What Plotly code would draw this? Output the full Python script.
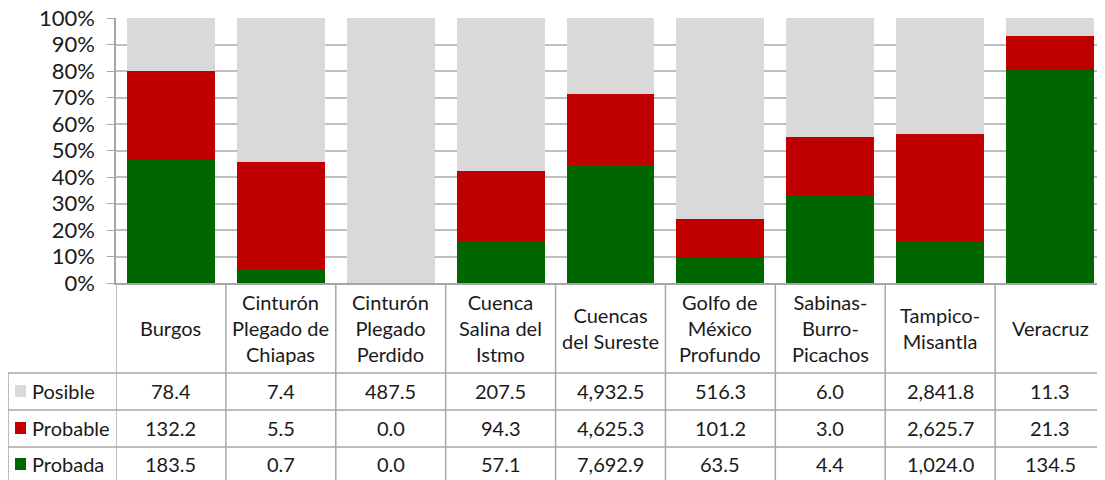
import plotly.graph_objects as go

categories = ["Burgos", "Cinturón<br>Plegado de<br>Chiapas", "Cinturón<br>Plegado<br>Perdido",
              "Cuenca<br>Salina del<br>Istmo", "Cuencas<br>del Sureste", "Golfo de<br>México<br>Profundo",
              "Sabinas-<br>Burro-<br>Picachos", "Tampico-<br>Misantla", "Veracruz"]
posible = [78.4, 7.4, 487.5, 207.5, 4932.5, 516.3, 6.0, 2841.8, 11.3]
probable = [132.2, 5.5, 0.0, 94.3, 4625.3, 101.2, 3.0, 2625.7, 21.3]
probada = [183.5, 0.7, 0.0, 57.1, 7692.9, 63.5, 4.4, 1024.0, 134.5]
y_ticks = [0, 10, 20, 30, 40, 50, 60, 70, 80, 90, 100]
y_labels = [f"{v}%" for v in y_ticks]

colors = {"Posible": "#d9d9d9", "Probable": "#c00000", "Probada": "#006600"}
FONT = "Lato, 'Open Sans', sans-serif"
TXT = "#1a1a1a"
LINE = "#a6a6a6"

# page is 1105x480 but the body has an 8px margin
O = 8
W, H = 1105, 480
L, T, B = 116, 18, 283  # plot area in page pixels


def px(x):
    return (x - L) / (W - L)


def py(y):
    return (B - y) / (B - T)


xs = list(range(len(categories)))
fig = go.Figure()
for name, vals in [("Probada", probada), ("Probable", probable), ("Posible", posible)]:
    fig.add_trace(go.Bar(x=xs, y=vals, name=name, marker_color=colors[name],
                         marker_line_width=0, showlegend=False))

fig.update_layout(
    barmode="stack", barnorm="percent", bargap=0.2,
    width=W - O, height=H - O,
    margin=dict(l=L - O, r=0, t=T - O, b=H - B, autoexpand=False),
    paper_bgcolor="white", plot_bgcolor="white",
    font=dict(family=FONT, color=TXT, size=20),
    xaxis=dict(range=[-0.5, len(categories) - 0.5], showticklabels=False, showgrid=False,
               zeroline=False, showline=True, linecolor=LINE, linewidth=1.5, ticks=""),
    yaxis=dict(range=[0, 100], tickmode="array", tickvals=y_ticks, ticktext=y_labels,
               showgrid=True, gridcolor="#bfbfbf", gridwidth=1.5, zeroline=False,
               showline=True, linecolor=LINE, linewidth=1.5, ticks="outside", ticklen=7,
               tickcolor=LINE, tickfont=dict(size=22, color=TXT),
               ticklabelstandoff=8, ticklabeloverflow="allow"),
)

shapes = []
# vertical table lines
for k in range(len(categories) + 1):
    x = k - 0.5
    shapes.append(dict(type="line", xref="x", yref="paper", x0=x, x1=x,
                       y0=py(283), y1=py(482), line=dict(color=LINE, width=1.5)))
shapes.append(dict(type="line", xref="paper", yref="paper", x0=px(8), x1=px(8),
                   y0=py(373), y1=py(482), line=dict(color=LINE, width=1.5)))
# horizontal table lines
for yy in [373, 410, 447]:
    shapes.append(dict(type="line", xref="paper", yref="paper", x0=px(8), x1=1,
                       y0=py(yy), y1=py(yy), line=dict(color=LINE, width=1.5)))

annotations = []
for i, c in enumerate(categories):
    annotations.append(dict(x=i, y=py(328), xref="x", yref="paper", text=c, showarrow=False,
                            xanchor="center", yanchor="middle", font=dict(size=20, color=TXT)))

rows = [("Posible", posible, 391), ("Probable", probable, 428), ("Probada", probada, 464)]
for name, vals, yc in rows:
    shapes.append(dict(type="rect", xref="paper", yref="paper", x0=px(15), x1=px(26),
                       y0=py(yc - 6), y1=py(yc + 6), fillcolor=colors[name], line_width=0))
    annotations.append(dict(x=px(30), y=py(yc), xref="paper", yref="paper", text=name,
                            showarrow=False, xanchor="left", yanchor="middle",
                            font=dict(size=20, color=TXT)))
    for i, v in enumerate(vals):
        annotations.append(dict(x=i, y=py(yc), xref="x", yref="paper", text=f"{v:,.1f}",
                                showarrow=False, xanchor="center", yanchor="middle",
                                font=dict(size=20, color=TXT)))

fig.update_layout(shapes=shapes, annotations=annotations)
fig.write_html("out.html")
